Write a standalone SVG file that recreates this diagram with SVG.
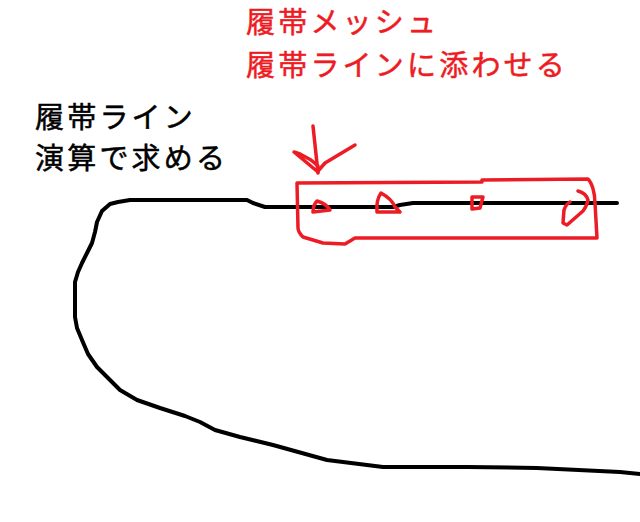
<svg xmlns="http://www.w3.org/2000/svg" width="640" height="522" viewBox="0 0 640 522">
  <style>
    .txt { font-family: "Noto Sans CJK JP", "Noto Sans", sans-serif; font-size: 29px; letter-spacing: 3.2px; stroke-width: 0.5px; }
    .red-t { fill: #ed1c24; stroke: #ed1c24; }
    .blk-t { fill: #000000; stroke: #000000; }
    .blk { fill: none; stroke: #000000; stroke-width: 4; stroke-linecap: round; stroke-linejoin: round; }
    .red { fill: none; stroke: #ed1c24; stroke-width: 3.5; stroke-linecap: round; stroke-linejoin: round; }
  </style>
  <rect width="640" height="522" fill="#ffffff"/>

  <g id="label-mesh">
    <text class="txt red-t" x="246" y="33">履帯メッシュ</text>
    <text class="txt red-t" x="246" y="76">履帯ラインに添わせる</text>
  </g>

  <g id="label-line">
    <text class="txt blk-t" x="35" y="128">履帯ライン</text>
    <text class="txt blk-t" x="35" y="169">演算で求める</text>
  </g>

  <g id="track-line">
    <polyline class="blk" points="640,474 620,472 537,468 467,467 383,467 327,460 273,445 240,437 215,430 200,422 185,416 160,408 137,400 120,390 108,378 97,367 88,354 82,340 77,328 75,317 75,282 78,272 82,263 87,253 92,243 95,232 97,222 102,211 110,204 118,202 130,200 247,200 253,203 265,207 393,207 400,205 413,203 617,203"/>
  </g>

  <g id="mesh-box">
    <path class="red" d="M298,228 L297,183 L482,182 L482,180 L588,179 C592,183 595,193 595,203 L597,238 L355,238 L345,244 L323,243 L303,237 C300,234 298,231 298,228 Z"/>
  </g>

  <g id="arrow">
    <path class="red" d="M313,126 L318,173"/>
    <path class="red" d="M318,172 L294,152 L300,154 L311,160 L318,166"/>
    <path class="red" d="M355,145 L325,163 L318,171"/>
  </g>

  <g id="mesh-markers">
    <path class="red" d="M317,201 Q327,204 330,210 L313,212 Q313,205 317,201 Z"/>
    <path class="red" d="M381,193 Q392,199 395,207 L400,212 L377,212 Q376,200 381,193 Z"/>
    <path class="red" d="M472,197 L483,197 L480,208 L472,209 Z"/>
    <path class="red" d="M578,191 Q586,193 588,200 Q587,206 583,211 L567,225 L563,223 L564,210 Q566,204 570,202"/>
  </g>
</svg>
